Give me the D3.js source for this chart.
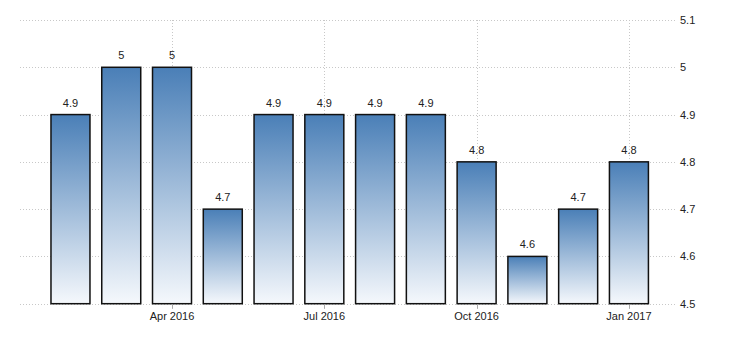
<!DOCTYPE html>
<html lang="en">

<head>
    <meta charset="UTF-8">
    <title>Chart</title>
    <script src="https://d3js.org/d3.v7.min.js"></script>
    <style>
        * {
            margin: 0;
            padding: 0;
        }

        body {
            background: #fff;
        }

        text {
            font: 11px "Liberation Sans", Arial, sans-serif;
            fill: #222;
        }
    </style>
</head>

<body>
    <script>
        var months = ["Feb 2016", "Mar 2016", "Apr 2016", "May 2016", "Jun 2016", "Jul 2016",
            "Aug 2016", "Sep 2016", "Oct 2016", "Nov 2016", "Dec 2016", "Jan 2017"];
        var values = [4.9, 5, 5, 4.7, 4.9, 4.9, 4.9, 4.9, 4.8, 4.6, 4.7, 4.8];
        var yTicks = [4.5, 4.6, 4.7, 4.8, 4.9, 5, 5.1];
        var xTicks = ["Apr 2016", "Jul 2016", "Oct 2016", "Jan 2017"];

        var width = 730, height = 340;

        var svg = d3.select("body")
            .append("svg")
            .attr("width", width)
            .attr("height", height);

        var x = d3.scaleBand()
            .domain(months)
            .range([39.2, 660.2])
            .padding(0.232);

        var y = d3.scaleLinear()
            .domain([4.5, 5.1])
            .range([303.7, 20]);

        // gradient for bars
        var grad = svg.append("defs")
            .append("linearGradient")
            .attr("id", "barGrad")
            .attr("x1", 0).attr("y1", 0)
            .attr("x2", 0).attr("y2", 1);
        grad.append("stop").attr("offset", "0%").attr("stop-color", "#4a7fb7");
        grad.append("stop").attr("offset", "100%").attr("stop-color", "#f5f8fc");

        // horizontal grid
        svg.selectAll(".hgrid")
            .data(yTicks)
            .enter()
            .append("line")
            .attr("x1", 20)
            .attr("x2", 677)
            .attr("y1", function (d) { return Math.round(y(d)) + 0.5; })
            .attr("y2", function (d) { return Math.round(y(d)) + 0.5; })
            .attr("stroke", "#c8c8c8")
            .attr("stroke-dasharray", "1,2");

        // vertical grid
        svg.selectAll(".vgrid")
            .data(xTicks)
            .enter()
            .append("line")
            .attr("x1", function (d) { return Math.round(x(d) + x.bandwidth() / 2) + 0.5; })
            .attr("x2", function (d) { return Math.round(x(d) + x.bandwidth() / 2) + 0.5; })
            .attr("y1", y(5.1))
            .attr("y2", y(4.5) + 5)
            .attr("stroke", "#c8c8c8")
            .attr("stroke-dasharray", "1,2");

        // bars
        svg.selectAll(".bar")
            .data(values)
            .enter()
            .append("rect")
            .attr("x", function (d, i) { return x(months[i]); })
            .attr("y", function (d) { return y(d); })
            .attr("width", x.bandwidth())
            .attr("height", function (d) { return y(4.5) - y(d); })
            .attr("fill", "url(#barGrad)")
            .attr("stroke", "#111")
            .attr("stroke-width", 1.5);

        // value labels
        svg.selectAll(".val")
            .data(values)
            .enter()
            .append("text")
            .attr("x", function (d, i) { return x(months[i]) + x.bandwidth() / 2; })
            .attr("y", function (d) { return y(d) - 8; })
            .attr("text-anchor", "middle")
            .text(function (d) { return d; });

        // x tick marks
        svg.selectAll(".xtick")
            .data(xTicks)
            .enter()
            .append("line")
            .attr("x1", function (d) { return Math.round(x(d) + x.bandwidth() / 2) + 0.5; })
            .attr("x2", function (d) { return Math.round(x(d) + x.bandwidth() / 2) + 0.5; })
            .attr("y1", y(4.5) + 1)
            .attr("y2", y(4.5) + 5)
            .attr("stroke", "#aaa");

        // x labels
        svg.selectAll(".xlab")
            .data(xTicks)
            .enter()
            .append("text")
            .attr("x", function (d) { return x(d) + x.bandwidth() / 2; })
            .attr("y", 320)
            .attr("text-anchor", "middle")
            .text(function (d) { return d; });

        // y labels
        svg.selectAll(".ylab")
            .data(yTicks)
            .enter()
            .append("text")
            .attr("x", 680)
            .attr("y", function (d) { return y(d) + 4; })
            .text(function (d) { return d; });
    </script>
</body>

</html>
